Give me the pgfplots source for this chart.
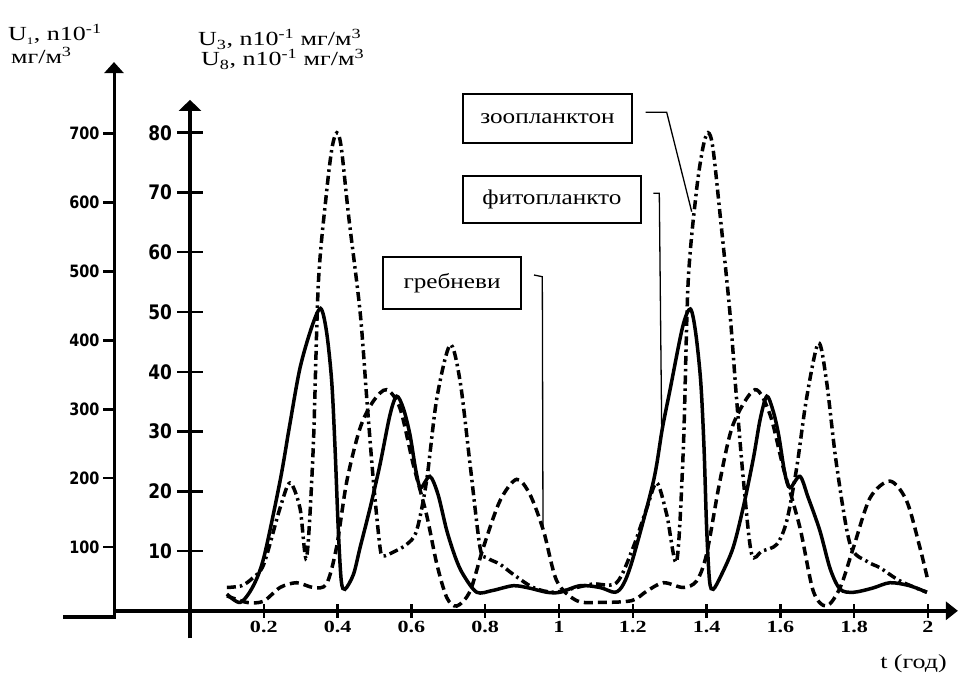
\documentclass[border=0pt]{standalone}
\usepackage{fontspec}
\setmainfont{Liberation Serif}
\newfontfamily\wserif[FakeStretch=1.3]{Liberation Serif}
\newfontfamily\lserif[FakeStretch=1.2]{Liberation Serif}
\newfontfamily\tsans{DejaVu Sans}
\newfontfamily\csans[FakeStretch=0.85]{DejaVu Sans}
\usepackage{pgfplots}
\pgfplotsset{compat=1.18}
\usetikzlibrary{arrows.meta}

\begin{document}
\begin{tikzpicture}
\path[use as bounding box] (0,0) rectangle (958pt,675pt);

% outer scale (U1)
\begin{axis}[
    at={(114pt,59pt)}, anchor=origin,
    x=10pt, y=0.689pt,
    xmin=0, xmax=1, ymin=0, ymax=804,
    axis x line=none, axis y line=left,
    y axis line style={line width=3pt, -{Triangle[length=11pt,width=19pt]}},
    ytick={100,200,300,400,500,600,700},
    yticklabels={100,200,300,400,500,600,700},
    yticklabel style={font=\csans\bfseries\fontsize{17}{17}\selectfont},
    tick align=outside, major tick length=11pt,
    ytick style={line width=2.5pt, black},
]
\end{axis}
\draw[line width=3.5pt] (63pt,58pt) -- (115.5pt,58pt);

% main axes (U3, U8)
\begin{axis}[
    at={(190pt,64.2pt)}, anchor=origin,
    x=369pt, y=5.976pt,
    xmin=-0.209, xmax=2.081, ymin=-4.6, ymax=85.5,
    axis lines=middle,
    x axis line style={line width=3.5pt, -{Triangle[length=12pt,width=18pt]}},
    y axis line style={line width=4.5pt, -{Triangle[length=11pt,width=22pt]}},
    xtick=\empty,
    extra x ticks={0.2,0.4,0.6,0.8,1,1.2,1.4,1.6,1.8,2},
    extra x tick labels={0.2,0.4,0.6,0.8,1,1.2,1.4,1.6,1.8,2},
    extra x tick style={major tick length=14pt, tick align=center,
        xticklabel style={font=\wserif\bfseries\fontsize{17}{17}\selectfont},
        xtick style={line width=2.5pt, black}},
    ytick={10,20,30,40,50,60,70,80},
    yticklabels={10,20,30,40,50,60,70,80},
    yticklabel style={font=\csans\bfseries\fontsize{20}{20}\selectfont, xshift=-2pt},
    tick align=center, major tick length=25pt,
    ytick style={line width=2.5pt, black},
]
% фитопланктон
\addplot[black, line width=3.5pt, smooth] coordinates {
(0.10,2.8) (0.136,1.4) (0.17,4.0) (0.20,8.9) (0.244,21.7) (0.27,31.0) (0.298,40.6)
(0.33,47.5) (0.354,50.6) (0.37,46.7) (0.384,38.4) (0.393,27.3) (0.402,13.4) (0.41,5.0)
(0.42,3.6) (0.443,6.1) (0.461,10.6) (0.488,17.2) (0.515,24.5) (0.542,32.8) (0.56,35.9)
(0.578,33.9) (0.596,29.5) (0.612,23.5) (0.625,20.6) (0.65,22.5) (0.672,19.5) (0.696,13.4)
(0.72,8.8) (0.74,6.1) (0.777,3.1) (0.82,3.4) (0.876,4.2) (0.92,3.8) (0.967,3.1)
(1.003,3.1) (1.057,4.2) (1.111,3.9) (1.152,3.1) (1.175,4.5) (1.201,8.9) (1.256,21.7)
(1.28,30.5) (1.30,36.7) (1.335,47.5) (1.356,50.5) (1.37,46.7) (1.384,38.4) (1.393,27.3)
(1.40,14.0) (1.408,5.0) (1.418,3.6) (1.44,6.0) (1.472,10.6) (1.50,17.5) (1.527,25.6)
(1.545,32.0) (1.563,35.9) (1.58,33.5) (1.595,29.5) (1.612,23.0) (1.626,20.6) (1.653,22.5)
(1.675,19.0) (1.707,13.4) (1.735,7.0) (1.762,3.6) (1.798,3.1) (1.85,3.8) (1.897,4.7)
(1.95,4.2) (1.997,3.1)
};
% зоопланктон
\addplot[black, line width=3.5pt, smooth, dash pattern=on 9pt off 4pt on 2.5pt off 4pt] coordinates {
(0.10,3.9) (0.14,4.2) (0.17,5.5) (0.20,7.8) (0.244,17.2) (0.271,21.4) (0.298,17.2)
(0.316,8.9) (0.334,27.3) (0.348,55.0) (0.37,70.0) (0.385,77.5) (0.398,80.0) (0.41,77.5)
(0.43,66.0) (0.461,50.0) (0.479,35.6) (0.497,21.7) (0.515,10.6) (0.524,9.2) (0.55,9.8)
(0.587,11.1) (0.614,13.4) (0.641,21.7) (0.669,35.6) (0.705,44.5) (0.732,38.4) (0.759,24.5)
(0.786,10.6) (0.804,8.9) (0.84,7.8) (0.876,6.1) (0.93,3.9) (0.985,3.1) (1.048,3.9)
(1.093,4.5) (1.156,4.7) (1.201,10.6) (1.238,17.2) (1.265,21.4) (1.292,16.1) (1.319,8.3)
(1.337,27.3) (1.35,55.0) (1.372,70.0) (1.39,77.5) (1.404,80.0) (1.417,77.5) (1.437,66.0)
(1.463,50.0) (1.481,35.6) (1.50,21.7) (1.522,9.5) (1.55,10.0) (1.59,11.1) (1.617,15.0)
(1.644,23.9) (1.671,35.6) (1.703,44.8) (1.725,38.4) (1.752,24.5) (1.789,11.1) (1.834,8.3)
(1.87,7.2) (1.924,5.0) (1.997,3.1)
};
% гребневик
\addplot[black, line width=3.5pt, smooth, dash pattern=on 9pt off 5pt] coordinates {
(0.10,2.5) (0.154,1.4) (0.199,1.6) (0.244,3.9) (0.289,4.7) (0.334,3.9) (0.37,4.5)
(0.397,10.6) (0.425,21.7) (0.461,30.6) (0.497,35.1) (0.533,37.0) (0.569,33.9) (0.605,24.5)
(0.641,16.1) (0.669,7.8) (0.696,2.2) (0.723,0.8) (0.759,3.3) (0.795,10.6) (0.84,18.4)
(0.885,22.0) (0.921,19.5) (0.958,13.4) (0.994,5.0) (1.048,1.7) (1.111,1.4) (1.197,1.7)
(1.238,3.3) (1.283,4.7) (1.337,3.9) (1.373,5.0) (1.40,9.5) (1.436,21.7) (1.472,31.2)
(1.531,37.0) (1.572,32.8) (1.608,23.9) (1.653,13.9) (1.689,3.3) (1.725,0.8) (1.762,3.9)
(1.798,10.6) (1.843,18.9) (1.897,21.7) (1.942,18.4) (1.978,10.6) (2.0,5.0)
};
\end{axis}

% titles
\begin{scope}[every node/.style={inner sep=0pt, font=\wserif\fontsize{20}{20}\selectfont}]
\node[anchor=base west] at (8pt,634pt) {U\textsubscript{\fontsize{10}{10}\selectfont 1}, n10\textsuperscript{-1}};
\node[anchor=base west] at (11pt,611pt) {мг/м\textsuperscript{3}};
\node[anchor=base west] at (198pt,629pt) {U\textsubscript{3}, n10\textsuperscript{-1} мг/м\textsuperscript{3}};
\node[anchor=base west] at (201pt,609pt) {U\textsubscript{8}, n10\textsuperscript{-1} мг/м\textsuperscript{3}};
\node[anchor=base east] at (947pt,7pt) {t (год)};
\end{scope}

% labels with leaders
\begin{scope}[every node/.style={draw, line width=1.2pt, inner sep=0pt, font=\lserif\fontsize{21}{21}\selectfont}]
\node[minimum width=169pt, minimum height=49pt] at (547.5pt,556.5pt) {зоопланктон};
\node[minimum width=178pt, minimum height=47pt] at (552pt,475.5pt) {фитопланкто};
\node[minimum width=138pt, minimum height=52pt] at (452pt,392pt) {гребневи};
\end{scope}
\draw[line width=1.3pt] (645.7pt,562.7pt) -- (666.7pt,562.7pt) -- (691.7pt,463.3pt);
\draw[line width=1.3pt] (653.3pt,481.7pt) -- (659.3pt,481.7pt) -- (661.7pt,245pt);
\draw[line width=1.3pt] (534pt,400pt) -- (542.3pt,398.3pt) -- (543pt,147pt);
\end{tikzpicture}
\end{document}
